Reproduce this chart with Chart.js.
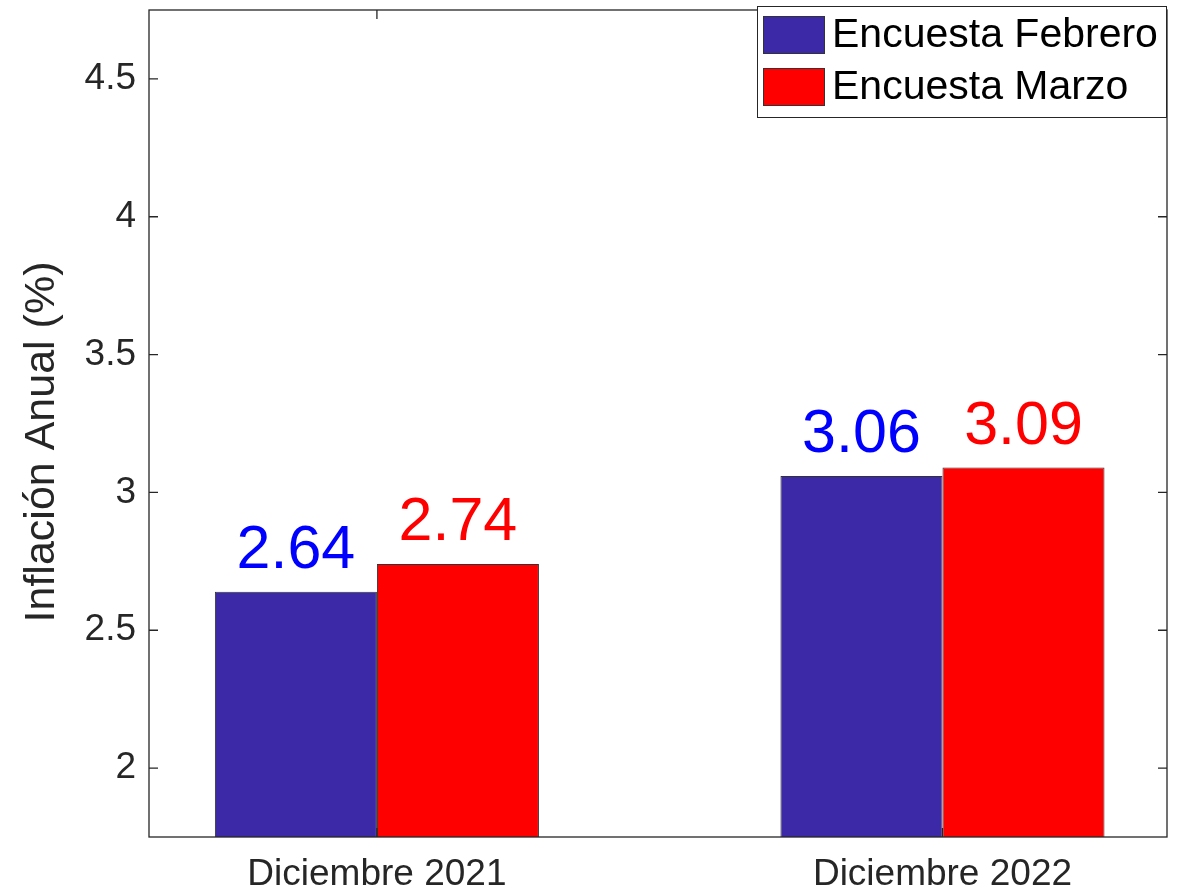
<!DOCTYPE html>
<html lang="es">
<head>
<meta charset="utf-8">
<title>Inflación Anual</title>
<script src="https://cdn.jsdelivr.net/npm/chart.js@4.4.1/dist/chart.umd.min.js"></script>
<style>
  html, body { margin: 0; padding: 0; background: #fff; }
  #wrap { width: 1186px; height: 895px; }
</style>
</head>
<body>
<div id="wrap"><canvas id="chart"></canvas></div>
<script>
// Datos
const categories = ['Diciembre 2021', 'Diciembre 2022'];
const categoryPos = [1, 2];
const seriesNames = ['Encuesta Febrero', 'Encuesta Marzo'];
const febrero = [2.64, 3.06];
const marzo = [2.74, 3.09];
const yTicks = [2, 2.5, 3, 3.5, 4, 4.5];
const yLimits = [1.75, 4.75];
const xLimits = [0.597, 2.397];
const yTitle = 'Inflación Anual (%)';

// Estilos
const barColors = ['#3C29A7', '#FF0000'];
const labelColors = ['#0000FF', '#FF0000'];
const AXIS_COLOR = '#262626';
const FONT = '"Liberation Sans", Arial, sans-serif';
const TICK = 9;

Chart.defaults.font.family = FONT;
Chart.defaults.color = AXIS_COLOR;

// Valores encima de cada barra
const valueLabels = {
    id: 'valueLabels',
    afterDatasetsDraw(chart) {
        const ctx = chart.ctx;
        ctx.save();
        ctx.font = '61px ' + FONT;
        ctx.textAlign = 'center';
        ctx.textBaseline = 'alphabetic';
        chart.data.datasets.forEach((ds, i) => {
            const meta = chart.getDatasetMeta(i);
            ctx.fillStyle = labelColors[i];
            meta.data.forEach((bar, j) => {
                ctx.fillText(ds.data[j].y.toFixed(2), bar.x, bar.y - 24);
            });
        });
        ctx.restore();
    }
};

// Caja de ejes estilo MATLAB, marcas hacia dentro y titulo del eje y
const frame = {
    id: 'frame',
    afterDraw(chart) {
        const { ctx, chartArea: a, scales: { x, y } } = chart;
        ctx.save();
        ctx.strokeStyle = AXIS_COLOR;
        ctx.lineWidth = 1.3;
        ctx.strokeRect(a.left, a.top, a.right - a.left, a.bottom - a.top);
        ctx.beginPath();
        y.ticks.forEach(t => {
            const py = y.getPixelForValue(t.value);
            ctx.moveTo(a.left, py); ctx.lineTo(a.left + TICK, py);
            ctx.moveTo(a.right, py); ctx.lineTo(a.right - TICK, py);
        });
        x.ticks.forEach(t => {
            const px = x.getPixelForValue(t.value);
            ctx.moveTo(px, a.bottom); ctx.lineTo(px, a.bottom - TICK);
            ctx.moveTo(px, a.top); ctx.lineTo(px, a.top + TICK);
        });
        ctx.stroke();

        ctx.translate(42, 442);
        ctx.rotate(-Math.PI / 2);
        ctx.font = '43px ' + FONT;
        ctx.fillStyle = AXIS_COLOR;
        ctx.textAlign = 'center';
        ctx.textBaseline = 'middle';
        ctx.fillText(yTitle, 0, 0);
        ctx.restore();
    }
};

// Leyenda dentro del area, arriba a la derecha
const boxLegend = {
    id: 'boxLegend',
    afterDraw(chart) {
        const { ctx, chartArea: a } = chart;
        const w = 410, h = 112;
        const left = a.right - w, top = a.top - 4;
        ctx.save();
        ctx.fillStyle = '#fff';
        ctx.fillRect(left, top, w, h);
        ctx.strokeStyle = AXIS_COLOR;
        ctx.lineWidth = 1;
        ctx.strokeRect(left + 0.5, top + 0.5, w - 1, h - 1);
        ctx.font = '41px ' + FONT;
        ctx.textBaseline = 'middle';
        chart.data.datasets.forEach((ds, i) => {
            const sy = top + 10 + i * 52;
            ctx.fillStyle = ds.backgroundColor;
            ctx.fillRect(left + 6, sy, 62, 38);
            ctx.strokeStyle = '#333';
            ctx.strokeRect(left + 6.5, sy + 0.5, 61, 37);
            ctx.fillStyle = '#000';
            ctx.fillText(ds.label, left + 75, sy + 20);
        });
        ctx.restore();
    }
};

const datasets = seriesNames.map((name, i) => {
    const vals = i === 0 ? febrero : marzo;
    return {
        label: name,
        data: vals.map((v, j) => ({ x: categoryPos[j], y: v })),
        backgroundColor: barColors[i],
        borderColor: '#333333',
        borderWidth: 1,
        categoryPercentage: 0.573,
        barPercentage: 1
    };
});

new Chart(document.getElementById('chart'), {
    type: 'bar',
    data: { datasets },
    options: {
        responsive: true,
        maintainAspectRatio: false,
        animation: false,
        layout: { padding: { top: 10, right: 19, left: 0, bottom: 0 } },
        plugins: {
            legend: { display: false },
            tooltip: { enabled: false }
        },
        scales: {
            x: {
                type: 'linear',
                offset: false,
                min: xLimits[0],
                max: xLimits[1],
                grid: { display: false, drawTicks: false, offset: false },
                border: { display: false },
                afterBuildTicks: s => { s.ticks = categoryPos.map(v => ({ value: v })); },
                afterFit: s => { s.height = 58; s.paddingLeft = 0; s.paddingRight = 0; },
                ticks: {
                    autoSkip: false,
                    maxRotation: 0,
                    padding: 16,
                    color: AXIS_COLOR,
                    font: { size: 37 },
                    callback: v => categories[categoryPos.indexOf(v)]
                }
            },
            y: {
                min: yLimits[0],
                max: yLimits[1],
                grid: { display: false, drawTicks: false },
                border: { display: false },
                afterBuildTicks: s => { s.ticks = yTicks.map(v => ({ value: v })); },
                afterFit: s => { s.width = 149; s.paddingTop = 0; s.paddingBottom = 0; },
                ticks: {
                    padding: 13,
                    color: AXIS_COLOR,
                    font: { size: 37 },
                    callback: v => String(v)
                }
            }
        }
    },
    plugins: [valueLabels, frame, boxLegend]
});
</script>
</body>
</html>
